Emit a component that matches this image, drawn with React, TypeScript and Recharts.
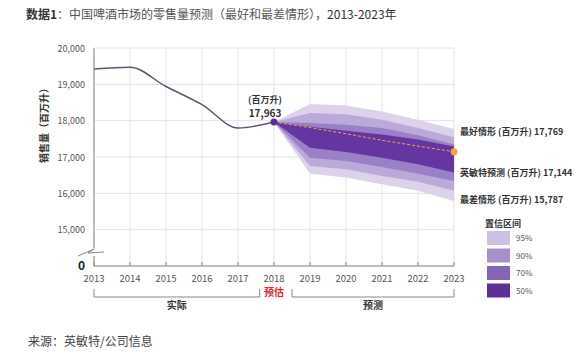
import React from 'react';
import { ComposedChart, Line, Area, XAxis, YAxis, CartesianGrid, ReferenceDot } from 'recharts';

// ---------- data ----------
const years = [2013, 2014, 2015, 2016, 2017, 2018, 2019, 2020, 2021, 2022, 2023];
const actualYears = [2013, 2014, 2015, 2016, 2017, 2018];
const actual = [19420, 19470, 18940, 18440, 17800, 17963];
const forecastYears = [2018, 2019, 2020, 2021, 2022, 2023];
const forecast = [17963, 17810, 17640, 17460, 17300, 17144];
const band95Low = [17963, 16540, 16435, 16250, 16070, 15787];
const band95High = [17963, 18456, 18418, 18255, 18027, 17769];
const band90Low = [17963, 16750, 16660, 16480, 16320, 16070];
const band90High = [17963, 18210, 18180, 18027, 17800, 17545];
const band70Low = [17963, 16980, 16890, 16725, 16540, 16340];
const band70High = [17963, 17937, 17890, 17800, 17600, 17345];
const band50Low = [17963, 17254, 17140, 16980, 16800, 16570];
const band50High = [17963, 17830, 17720, 17617, 17480, 17290];
const yTicks = [14000, 15000, 16000, 17000, 18000, 19000, 20000];
const yTickLabels = ['0', '15,000', '16,000', '17,000', '18,000', '19,000', '20,000'];
const legendLabels = ['95%', '90%', '70%', '50%'];

// ---------- styles ----------
const W = 580;
const H = 352;
const PLOT_LEFT = 94;
const PLOT_RIGHT = 454;
const PLOT_TOP = 48;
const PLOT_BOTTOM = 266;
const FONT = '"Noto Sans CJK SC", "Noto Sans", sans-serif';
const bandColors = ['#dcd2ea', '#bba9da', '#9a80c7', '#6535a2'];
const legendColors = ['#cdc1e2', '#a690cb', '#8465b6', '#5f2f99'];

const data = years.map((year) => {
  const row: any = { year };
  const a = actualYears.indexOf(year);
  if (a >= 0) row.actual = actual[a];
  const j = forecastYears.indexOf(year);
  if (j >= 0) {
    row.forecast = forecast[j];
    row.b95 = [band95Low[j], band95High[j]];
    row.b90 = [band90Low[j], band90High[j]];
    row.b70 = [band70Low[j], band70High[j]];
    row.b50 = [band50Low[j], band50High[j]];
  }
  return row;
});

const xPos = (year: number) =>
  PLOT_LEFT + ((year - years[0]) / (years[years.length - 1] - years[0])) * (PLOT_RIGHT - PLOT_LEFT);

const XTick = (props: any) => {
  const { x, payload } = props;
  return (
    <g>
      <line x1={x} x2={x} y1={PLOT_BOTTOM} y2={PLOT_BOTTOM - 4} stroke="#888" strokeWidth={1} />
      <text x={x} y={PLOT_BOTTOM + 16} textAnchor="middle" fontSize={9.5} fill="#555" fontFamily={FONT}>
        {payload.value}
      </text>
    </g>
  );
};

const YTick = (props: any) => {
  const { x, y, payload } = props;
  const idx = yTicks.indexOf(payload.value);
  const isZero = idx === 0;
  return (
    <text
      x={x}
      y={y}
      dy={isZero ? -2 : 0}
      dominantBaseline="central"
      textAnchor="end"
      fontSize={isZero ? 12 : 9}
      fontWeight={isZero ? 700 : 400}
      fill={isZero ? '#222' : '#555'}
      fontFamily={FONT}
    >
      {yTickLabels[idx]}
    </text>
  );
};

export default function App() {
  const bracketY = 297;
  return (
    <div style={{ position: 'absolute', left: 0, top: 0, width: W, height: H, background: '#fff', fontFamily: FONT }}>
      <ComposedChart
        width={W}
        height={H}
        data={data}
        margin={{ top: PLOT_TOP, right: W - PLOT_RIGHT, bottom: H - PLOT_BOTTOM - 20, left: PLOT_LEFT - 60 }}
      >
        <CartesianGrid stroke="#e4e1ea" strokeWidth={1} />
        <XAxis
          dataKey="year"
          type="number"
          domain={[2013, 2023]}
          ticks={years}
          interval={0}
          height={20}
          axisLine={{ stroke: '#888', strokeWidth: 1 }}
          tickLine={false}
          tick={<XTick />}
        />
        <YAxis
          type="number"
          domain={[14000, 20000]}
          ticks={yTicks}
          interval={0}
          width={60}
          axisLine={{ stroke: '#888', strokeWidth: 1 }}
          tickLine={false}
          tickMargin={3}
          tick={<YTick />}
        />
        <Area dataKey="b95" type="linear" stroke="none" fill={bandColors[0]} fillOpacity={1} isAnimationActive={false} />
        <Area dataKey="b90" type="linear" stroke="none" fill={bandColors[1]} fillOpacity={1} isAnimationActive={false} />
        <Area dataKey="b70" type="linear" stroke="none" fill={bandColors[2]} fillOpacity={1} isAnimationActive={false} />
        <Area dataKey="b50" type="linear" stroke="none" fill={bandColors[3]} fillOpacity={1} isAnimationActive={false} />
        <Line
          dataKey="actual"
          type="monotone"
          stroke="#5d5570"
          strokeWidth={1.5}
          dot={false}
          isAnimationActive={false}
        />
        <Line
          dataKey="forecast"
          type="linear"
          stroke="#f2a347"
          strokeWidth={1}
          strokeDasharray="3 2"
          dot={false}
          isAnimationActive={false}
        />
        <ReferenceDot x={2018} y={actual[actual.length - 1]} r={3.5} fill="#5a2d92" stroke="none" />
        <ReferenceDot x={2023} y={forecast[forecast.length - 1]} r={3.5} fill="#f5a540" stroke="none" />
      </ComposedChart>

      <svg
        width={W}
        height={H}
        style={{ position: 'absolute', left: 0, top: 0, pointerEvents: 'none' }}
        fontFamily={FONT}
      >
        {/* title */}
        <text x={26} y={19} fontSize={12} fill="#555">
          <tspan fontWeight={700} fill="#333">数据1</tspan>
          <tspan>：中国啤酒市场的零售量预测（最好和最差情形），</tspan>
          <tspan fill="#333">2013-2023年</tspan>
        </text>

        {/* y axis title */}
        <text
          x={43}
          y={123}
          fontSize={10}
          fontWeight={700}
          fill="#333"
          textAnchor="middle"
          transform="rotate(-90 43 123)"
          dominantBaseline="central"
        >
          销售量（百万升）
        </text>

        {/* axis break */}
        <rect x={PLOT_LEFT - 3} y={248} width={6} height={8} fill="#fff" />
        <polyline points="78,256 94,249 88,253 104,252" fill="none" stroke="#888" strokeWidth={1} />

        {/* 2018 value label */}
        <text x={xPos(2018) - 9} y={103} fontSize={9} fontWeight={700} fill="#333" textAnchor="middle">
          (百万升)
        </text>
        <text x={xPos(2018) - 9} y={117} fontSize={10} fontWeight={700} fill="#333" textAnchor="middle">
          17,963
        </text>

        {/* right-side labels */}
        <text x={460} y={135} fontSize={9} fontWeight={700} fill="#333">最好情形 (百万升) 17,769</text>
        <text x={460} y={176} fontSize={9} fontWeight={700} fill="#333">英敏特预测 (百万升) 17,144</text>
        <text x={460} y={203} fontSize={9} fontWeight={700} fill="#333">最差情形 (百万升) 15,787</text>

        {/* legend */}
        <text x={485} y={227} fontSize={9} fontWeight={700} fill="#333">置信区间</text>
        {legendLabels.map((lab, i) => (
          <g key={lab}>
            <rect x={487} y={231 + i * 17.5} width={23} height={14} fill={legendColors[i]} />
            <text x={516} y={241 + i * 17.5} fontSize={8} fill="#555">{lab}</text>
          </g>
        ))}

        {/* brackets */}
        <polyline
          points={`${xPos(2013)},${bracketY - 8} ${xPos(2013)},${bracketY} ${xPos(2017.6)},${bracketY} ${xPos(2017.6)},${bracketY - 8}`}
          fill="none"
          stroke="#888"
          strokeWidth={1}
        />
        <text x={(xPos(2013) + xPos(2017.6)) / 2} y={309} fontSize={10} fontWeight={700} fill="#333" textAnchor="middle">
          实际
        </text>
        <text x={xPos(2018)} y={296} fontSize={10} fontWeight={700} fill="#e0262b" textAnchor="middle">
          预估
        </text>
        <polyline
          points={`${xPos(2018.5)},${bracketY - 8} ${xPos(2018.5)},${bracketY} ${xPos(2023)},${bracketY} ${xPos(2023)},${bracketY - 8}`}
          fill="none"
          stroke="#888"
          strokeWidth={1}
        />
        <text x={(xPos(2018.5) + xPos(2023)) / 2} y={309} fontSize={10} fontWeight={700} fill="#333" textAnchor="middle">
          预测
        </text>

        {/* source */}
        <text x={28} y={346} fontSize={12} fill="#444">来源：英敏特/公司信息</text>
      </svg>
    </div>
  );
}
